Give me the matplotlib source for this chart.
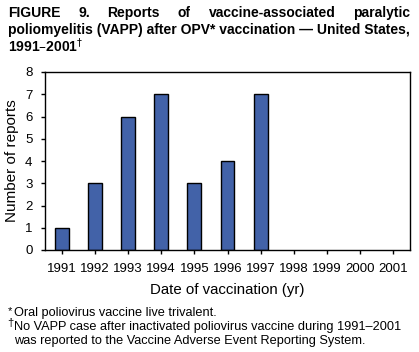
import matplotlib
matplotlib.use("Agg")
import matplotlib.pyplot as plt

# data
years = [1991, 1992, 1993, 1994, 1995, 1996, 1997, 1998, 1999, 2000, 2001]
reports = [1, 3, 6, 7, 3, 4, 7, 0, 0, 0, 0]

plt.rcParams['font.family'] = ['Liberation Sans', 'DejaVu Sans']

W, H = 419, 352
fig = plt.figure(figsize=(W / 100, H / 100), dpi=100)

# axes box: left 45, right 410, top 72, bottom 250 (pixels)
ax = fig.add_axes([45 / W, 1 - 250 / H, (410 - 45) / W, (250 - 72) / H])
# zero-count years get no bar outline
nz = [(y, v) for y, v in zip(years, reports) if v > 0]
ax.bar([y for y, v in nz], [v for y, v in nz], width=0.42,
       color='#4262a8', edgecolor='black', linewidth=1)
ax.set_xlim(1990.5, 2001.5)
ax.set_ylim(0, 8)
ax.set_xticks(years)
ax.set_yticks(range(0, 9))
ax.tick_params(direction='out', length=3, width=1, labelsize=9.5, pad=6)
for s in ax.spines.values():
    s.set_linewidth(1)
ax.set_ylabel('Number of reports', fontsize=11, labelpad=4)
ax.set_xlabel('Date of vaccination (yr)', fontsize=10.8, labelpad=6)

# title, first line justified across the width
fig.canvas.draw()
r = fig.canvas.get_renderer()
words = 'FIGURE 9. Reports of vaccine-associated paralytic'.split()
x0, x1 = 8 / W, 410 / W
ty = 1 - 13 / H
arts = [fig.text(0, ty, w, fontsize=10, fontweight='bold', va='center') for w in words]
widths = [a.get_window_extent(r).width / W for a in arts]
gap = (x1 - x0 - sum(widths)) / (len(words) - 1)
x = x0
for a, w in zip(arts, widths):
    a.set_x(x)
    x += w + gap
fig.text(x0, 1 - 30 / H, 'poliomyelitis (VAPP) after OPV* vaccination \u2014 United States,',
         fontsize=10, fontweight='bold', va='center')
fig.text(x0, 1 - 46 / H, '1991\u20132001$^\u2020$', fontsize=10, fontweight='bold', va='center')

# footnotes
fs = 9.2
fig.text(8 / W, 1 - 311 / H, '*', fontsize=8, va='center')
fig.text(14 / W, 1 - 313 / H, 'Oral poliovirus vaccine live trivalent.', fontsize=fs, va='center')
fig.text(7 / W, 1 - 323 / H, '\u2020', fontsize=8, va='center')
fig.text(14 / W, 1 - 327 / H, 'No VAPP case after inactivated poliovirus vaccine during 1991\u20132001',
         fontsize=fs, va='center')
fig.text(14 / W, 1 - 341 / H, 'was reported to the Vaccine Adverse Event Reporting System.',
         fontsize=fs, va='center')

fig.savefig('out.png', dpi=100)
